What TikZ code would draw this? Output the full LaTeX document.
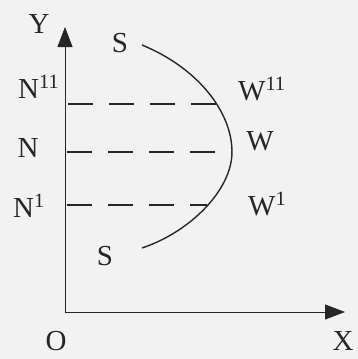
\documentclass[tikz,border=0pt]{standalone}
\usepackage{fontspec}
\setmainfont{Liberation Serif}
\usetikzlibrary{arrows.meta}

\begin{document}
\begin{tikzpicture}[x=1pt, y=-1pt,
    lbl/.style={font=\fontsize{29}{31}\selectfont, text=black!85, inner sep=0pt},
    axis/.style={line width=1pt, draw=black!85, -{Triangle[length=20pt,width=15pt]}},
    level/.style={line width=2pt, draw=black!85, dash pattern=on 25pt off 16pt},
    bow/.style={line width=1.4pt, draw=black!85}]

% page and paper tint
\fill[black!5] (0,0) rectangle (358,359);

% axes
\coordinate (O) at (65,312);
\coordinate (ytip) at (65,27);
\coordinate (xtip) at (345,312);
\draw[axis] (O) -- (ytip);
\draw[axis] (O) -- (xtip);

% points where the levels meet the curve
\coordinate (n11) at (68,104);
\coordinate (w11) at (217,104);
\coordinate (n) at (67,152);
\coordinate (w) at (232,152);
\coordinate (n1) at (67,205);
\coordinate (w1) at (207,205);
\coordinate (stop) at (142,45);
\coordinate (sbot) at (142,248);

% the curve S--S
\draw[bow] (stop) .. controls (198,68) and (232,112) .. (w)
                  .. controls (232,190) and (190,232) .. (sbot);

% dashed levels
\draw[level] (n11) -- (w11);
\draw[level] (n) -- (w);
\draw[level] (n1) -- (w1);

% labels
\node[lbl] (ylab) at (39,24) {Y};
\node[lbl] (xlab) at (343,341) {X};
\node[lbl] (olab) at (56,341) {O};
\node[lbl] (s1lab) at (120,43) {S};
\node[lbl] (s2lab) at (105,256) {S};
\node[lbl, anchor=base west] (n11lab) at (18,98) {N\textsuperscript{11}};
\node[lbl, anchor=base west] (w11lab) at (238,100) {W\textsuperscript{11}};
\node[lbl] (nlab) at (28,148) {N};
\node[lbl] (wlab) at (260,141) {W};
\node[lbl, anchor=base west] (n1lab) at (13,217) {N\textsuperscript{1}};
\node[lbl, anchor=base west] (w1lab) at (248,215) {W\textsuperscript{1}};

\useasboundingbox (0,0) rectangle (358,359);
\end{tikzpicture}
\end{document}
